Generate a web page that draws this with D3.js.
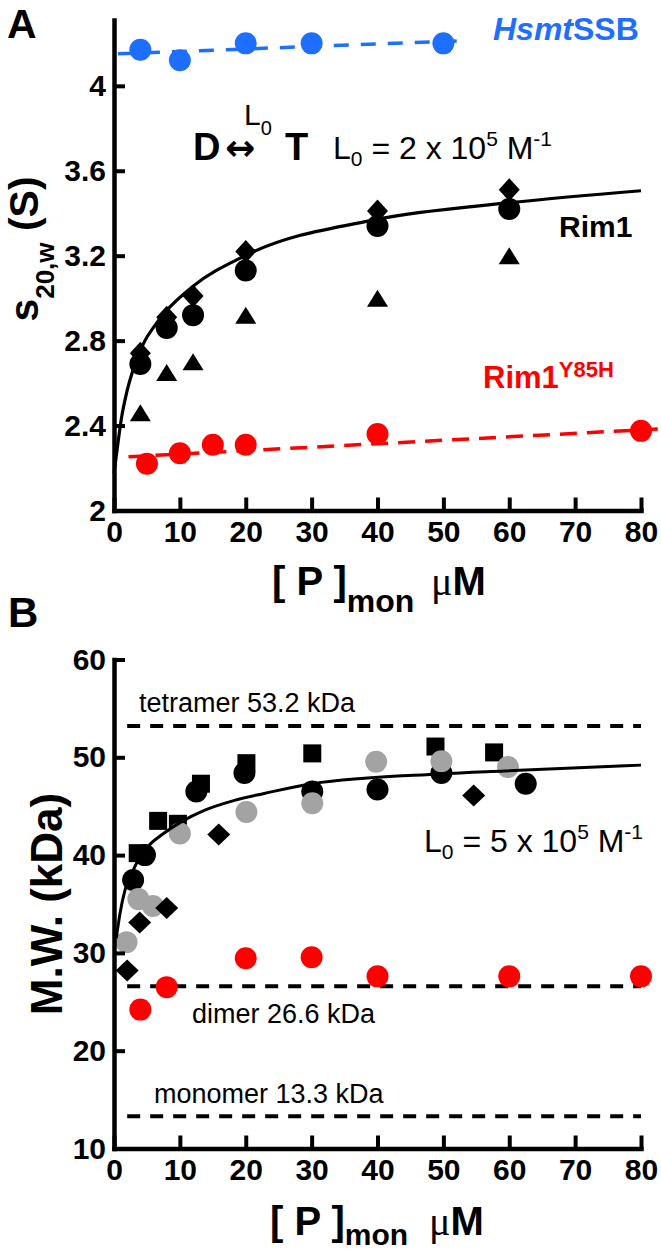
<!DOCTYPE html>
<html><head><meta charset="utf-8">
<script src="https://cdn.jsdelivr.net/npm/d3@7"></script>
<style>
body{margin:0;background:#fff}
svg{display:block;background:#fff}
text{font-family:"Liberation Sans",Arial,Helvetica,sans-serif}
</style>
</head><body>
<svg id="c" width="661" height="1252"></svg>
<script>
// ---------- Panel A data ----------
const xTicks = [0, 10, 20, 30, 40, 50, 60, 70, 80];
const yTicksA = [2, 2.4, 2.8, 3.2, 3.6, 4];
const yTickLabelsA = ["2", "2.4", "2.8", "3.2", "3.6", "4"];

const hsmtX = [4, 10, 20, 30, 50];
const hsmtS = [4.17, 4.12, 4.20, 4.20, 4.20];
const hsmtLineX = [0.6, 53.6];
const hsmtLineS = [4.151, 4.213];

const rim1X = [4, 8, 12, 20, 40, 60];
const rim1Circle = [2.69, 2.86, 2.92, 3.13, 3.34, 3.42];
const rim1Diamond = [2.74, 2.91, 3.01, 3.22, 3.41, 3.51];
const rim1Triangle = [2.46, 2.65, 2.70, 2.92, 3.00, 3.20];
const rim1FitX = [0, 0.65, 1.16, 1.92, 2.77, 3.68, 4.7, 5.95, 7.94, 11.95, 19.9, 39.7, 60.2, 80];
const rim1FitS = [2.175, 2.33, 2.44, 2.555, 2.65, 2.73, 2.80, 2.86, 2.94, 3.055, 3.20, 3.37, 3.45, 3.506];

const y85hX = [5, 10, 15, 20, 40, 80];
const y85hS = [2.22, 2.27, 2.31, 2.31, 2.36, 2.375];
const y85hLineX = [2.2, 82.7];
const y85hLineS = [2.253, 2.384];

// ---------- Panel B data ----------
const yTicksB = [10, 20, 30, 40, 50, 60];
const sqX = [3.6, 6.7, 9.7, 13.2, 20.1, 30.1, 48.8, 57.7];
const sqM = [40.2, 43.5, 43.2, 47.3, 49.4, 50.4, 51.1, 50.5];
const blkX = [2.9, 4.7, 12.5, 19.8, 30.1, 40, 49.7, 62.5];
const blkM = [37.45, 40.0, 46.5, 48.4, 46.5, 46.7, 48.4, 47.3];
const grayX = [1.9, 3.7, 5.9, 10.0, 20.1, 30.1, 39.8, 49.7, 59.8];
const grayM = [31.1, 35.5, 34.8, 42.2, 44.4, 45.3, 49.55, 49.6, 49.0];
const diaX = [2.0, 3.9, 8.0, 15.9, 54.6];
const diaM = [28.2, 33.1, 34.6, 42.1, 46.1];
const redX = [4, 8, 20, 30, 40, 60, 80];
const redM = [24.2, 26.5, 29.45, 29.55, 27.6, 27.6, 27.6];
const fitBX = [0.35, 0.9, 1.66, 2.68, 3.68, 5.19, 7.2, 10.2, 13.8, 18.3, 22.8, 30.1, 49.7, 59.3, 80];
const fitBM = [31.5, 34.0, 36.4, 38.1, 39.5, 40.9, 42.05, 43.4, 44.6, 45.6, 46.3, 47.3, 48.3, 48.6, 49.2];
const refLevels = [53.2, 26.6, 13.3];
const refLabels = ["tetramer 53.2 kDa", "dimer 26.6 kDa", "monomer 13.3 kDa"];
const refLineX = [2, 80];

// ---------- drawing ----------
const BLUE = "#1e6eff", RED = "#ff0000", GRAY = "#a3a3a3";
const svg = d3.select("#c");

const xA = d3.scaleLinear().domain([0, 80]).range([114, 641]);
const yA = d3.scaleLinear().domain([2, 4.31]).range([510.5, 20]);
const xB = d3.scaleLinear().domain([0, 80]).range([114, 641]);
const yB = d3.scaleLinear().domain([10, 60]).range([1148.5, 659.5]);

function axes(x, y, yTicks, yLabels) {
  const gx = svg.append("g").attr("transform", `translate(0,${y.range()[0]})`)
    .call(d3.axisBottom(x).tickValues(xTicks).tickFormat(d3.format("d"))
      .tickSizeInner(-13).tickSizeOuter(0).tickPadding(10));
  const gy = svg.append("g").attr("transform", `translate(${x.range()[0]},0)`)
    .call(d3.axisLeft(y).tickValues(yTicks).tickFormat((d, i) => yLabels[i])
      .tickSizeInner(-11).tickSizeOuter(0).tickPadding(8));
  [gx, gy].forEach(g => {
    g.attr("font-family", null).attr("font-size", null);
    g.select(".domain").attr("stroke", "#000").attr("stroke-width", 4.5).attr("stroke-linecap", "square");
    g.selectAll(".tick line").attr("stroke", "#000").attr("stroke-width", 4);
    g.selectAll(".tick text").attr("fill", "#000").style("font-size", "30px").style("font-weight", "bold");
  });
}

function circles(x, y, xs, ys, color, r = 11) {
  svg.append("g").selectAll("circle").data(xs).join("circle")
    .attr("cx", (d) => x(d)).attr("cy", (d, i) => y(ys[i])).attr("r", r).attr("fill", color);
}
function diamonds(x, y, xs, ys, hw, hh) {
  svg.append("g").selectAll("path").data(xs).join("path")
    .attr("d", (d, i) => {
      const cx = x(d), cy = y(ys[i]);
      return `M${cx},${cy - hh}L${cx + hw},${cy}L${cx},${cy + hh}L${cx - hw},${cy}Z`;
    }).attr("fill", "#000");
}
function triangles(x, y, xs, ys, hw, hh) {
  svg.append("g").selectAll("path").data(xs).join("path")
    .attr("d", (d, i) => {
      const cx = x(d), cy = y(ys[i]);
      return `M${cx},${cy - hh}L${cx + hw},${cy + hh}L${cx - hw},${cy + hh}Z`;
    }).attr("fill", "#000");
}
function squares(x, y, xs, ys, s) {
  svg.append("g").selectAll("rect").data(xs).join("rect")
    .attr("x", (d) => x(d) - s / 2).attr("y", (d, i) => y(ys[i]) - s / 2)
    .attr("width", s).attr("height", s).attr("fill", "#000");
}
function pathLine(x, y, xs, ys, opts) {
  const line = d3.line().x(d => x(d[0])).y(d => y(d[1]));
  if (opts.curve) line.curve(opts.curve);
  svg.append("path").datum(xs.map((d, i) => [d, ys[i]]))
    .attr("d", line).attr("fill", "none").attr("stroke", opts.color)
    .attr("stroke-width", opts.width).attr("stroke-dasharray", opts.dash || null);
}
function txt(x, y, parts, attrs = {}) {
  const t = svg.append("text").attr("x", x).attr("y", y);
  Object.entries(attrs).forEach(([k, v]) => t.attr(k, v));
  parts.forEach(p => {
    const s = t.append("tspan").text(p.t);
    if (p.x !== undefined) s.attr("x", p.x);
    if (p.y !== undefined) s.attr("y", p.y);
    if (p.dx !== undefined) s.attr("dx", p.dx);
    if (p.dy !== undefined) s.attr("dy", p.dy);
    s.style("font-size", (p.s || 28) + "px");
    if (p.b) s.style("font-weight", "bold");
    if (p.i) s.style("font-style", "italic");
    if (p.f) s.style("font-family", p.f);
    if (p.c) s.attr("fill", p.c);
  });
  return t;
}

// ===== Panel A =====
pathLine(xA, yA, hsmtLineX, hsmtLineS, { color: BLUE, width: 3.5, dash: "15,12" });
pathLine(xA, yA, y85hLineX, y85hLineS, { color: RED, width: 3.5, dash: "17,10" });
circles(xA, yA, hsmtX, hsmtS, BLUE);
circles(xA, yA, y85hX, y85hS, RED);
triangles(xA, yA, rim1X, rim1Triangle, 10.5, 8.5);
diamonds(xA, yA, rim1X, rim1Diamond, 10.5, 11.5);
circles(xA, yA, rim1X, rim1Circle, "#000");
pathLine(xA, yA, rim1FitX, rim1FitS, { color: "#000", width: 3.2, curve: d3.curveMonotoneX });
axes(xA, yA, yTicksA, yTickLabelsA);

txt(7, 38, [{ t: "A", s: 41, b: true }]);
txt(493, 40, [{ t: "Hsmt", s: 32, b: true, i: true }, { t: "SSB", s: 32, b: true }], { fill: BLUE });
txt(559, 237, [{ t: "Rim1", s: 30, b: true }]);
txt(483, 388, [{ t: "Rim1", s: 31, b: true }, { t: "Y85H", s: 22, b: true, dy: -11 }], { fill: RED });
// D <-> T
txt(193, 160, [{ t: "D", s: 38, b: true }]);
txt(225, 160, [{ t: "\u2194", s: 36, b: true, f: "DejaVu Sans" }]);
txt(244, 125, [{ t: "L", s: 30 }, { t: "0", s: 20, dy: 10 }]);
txt(285, 160, [{ t: "T", s: 38, b: true }]);
txt(333, 159, [{ t: "L", s: 32 }, { t: "0", s: 21, dy: 7 }, { t: " = 2 x 10", s: 32, dy: -7 },
  { t: "5", s: 21, dy: -13 }, { t: " M", s: 32, dy: 13 }, { t: "-1", s: 21, dy: -13 }]);
// axis titles A
txt(0, 0, [{ t: "s", s: 41, b: true }, { t: "20,w", s: 26, b: true, dy: 16 }, { t: " (S)", s: 41, b: true, dy: -16 }],
  { transform: "translate(38,249) rotate(-90)", "text-anchor": "middle" });
txt(272, 595, [{ t: "[ P ]", s: 40, b: true }, { t: "mon", s: 32, b: true, dy: 17 },
  { t: "\u03bc", s: 40, x: 431, dy: -17, f: "Liberation Serif" }, { t: "M", s: 40, b: true }]);

// ===== Panel B =====
refLevels.forEach((lv, i) => {
  pathLine(xB, yB, refLineX, [lv, lv], { color: "#000", width: 4, dash: "13,10" });
});
squares(xB, yB, sqX, sqM, 18);
circles(xB, yB, blkX, blkM, "#000");
circles(xB, yB, grayX, grayM, GRAY);
diamonds(xB, yB, diaX, diaM, 11.5, 11);
circles(xB, yB, redX, redM, RED);
pathLine(xB, yB, fitBX, fitBM, { color: "#000", width: 3, curve: d3.curveMonotoneX });
axes(xB, yB, yTicksB, yTicksB.map(String));

txt(139, 712, [{ t: refLabels[0], s: 27 }]);
txt(192, 1023, [{ t: refLabels[1], s: 27 }]);
txt(154, 1103, [{ t: refLabels[2], s: 27 }]);
txt(8, 627, [{ t: "B", s: 42, b: true }]);
txt(424, 852, [{ t: "L", s: 32 }, { t: "0", s: 21, dy: 7 }, { t: " = 5 x 10", s: 32, dy: -7 },
  { t: "5", s: 21, dy: -13 }, { t: " M", s: 32, dy: 13 }, { t: "-1", s: 21, dy: -13 }]);
txt(0, 0, [{ t: "M.W. (kDa)", s: 44, b: true }],
  { transform: "translate(62,904) rotate(-90)", "text-anchor": "middle" });
txt(270, 1235, [{ t: "[ P ]", s: 40, b: true }, { t: "mon", s: 30, b: true, dy: 10 },
  { t: "\u03bc", s: 40, x: 429, dy: -10, f: "Liberation Serif" }, { t: "M", s: 40, b: true }]);
</script>
</body></html>
